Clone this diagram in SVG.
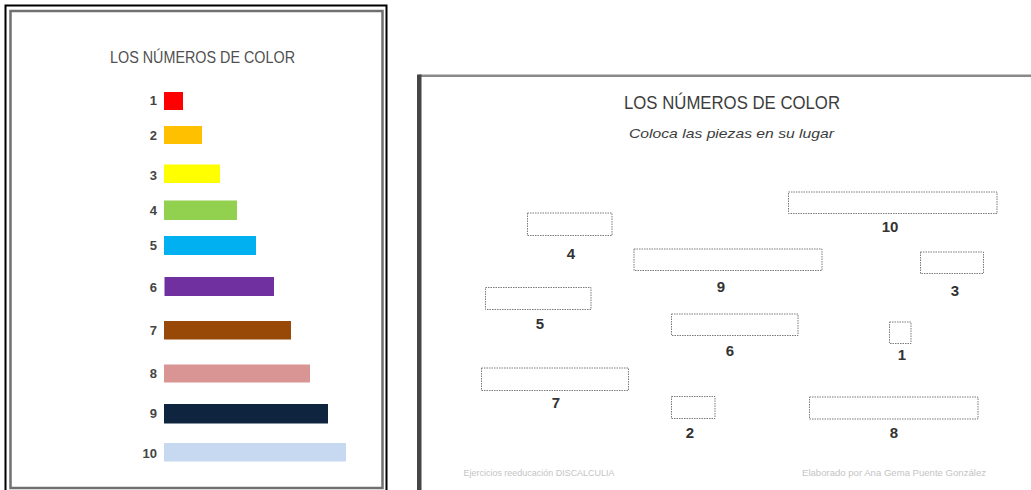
<svg xmlns="http://www.w3.org/2000/svg" width="1031" height="490" viewBox="0 0 1031 490">
<style>
.t{font-family:"Liberation Sans",Arial,sans-serif;fill:#3c3c3c}
.lt{font-size:17px;fill:#505050}
.ln{font-size:13px;font-weight:bold;fill:#444;text-anchor:end}
.rn{font-size:15px;font-weight:bold;fill:#333;text-anchor:middle}
.box{fill:none;stroke:#7a7a7a;stroke-width:1;stroke-dasharray:1.5 1}
.foot{font-size:9px;fill:#c4c4c4}
</style>
<rect width="1031" height="490" fill="#ffffff"/>
<!-- left sheet frame -->
<g id="left-frame">
<path d="M5.5 495 V5.5 H386.5 V495" fill="none" stroke="#000" stroke-width="2"/>
<path d="M10.5 488 V11 H382.5 V488 Z" fill="none" stroke="#707070" stroke-width="2.5"/>
</g>
<!-- right sheet frame -->
<g id="right-frame">
<rect x="419" y="74.5" width="620" height="2.5" fill="#8a8a8a"/>
<rect x="417" y="74.5" width="4.5" height="420" fill="#454545"/>
</g>
<text class="t lt" x="110" y="62.5" textLength="185" lengthAdjust="spacingAndGlyphs">LOS NÚMEROS DE COLOR</text>
<g id="bars">
<g id="bar1"><rect x="164" y="92" width="19" height="18" fill="#FF0000"/><text class="t ln" x="157" y="105">1</text></g>
<g id="bar2"><rect x="164" y="126" width="38" height="18" fill="#FFC000"/><text class="t ln" x="157" y="140">2</text></g>
<g id="bar3"><rect x="164" y="164.5" width="56" height="18.5" fill="#FFFF00"/><text class="t ln" x="157" y="179.5">3</text></g>
<g id="bar4"><rect x="164" y="200.5" width="73" height="19.5" fill="#92D050"/><text class="t ln" x="157" y="215">4</text></g>
<g id="bar5"><rect x="164" y="236" width="92" height="19" fill="#00B0F0"/><text class="t ln" x="157" y="250">5</text></g>
<g id="bar6"><rect x="164.5" y="277" width="109.5" height="19" fill="#7030A0"/><text class="t ln" x="157" y="291.5">6</text></g>
<g id="bar7"><rect x="164" y="321" width="127" height="18.5" fill="#984807"/><text class="t ln" x="157" y="335">7</text></g>
<g id="bar8"><rect x="164" y="364.5" width="146" height="18" fill="#D99594"/><text class="t ln" x="157" y="378">8</text></g>
<g id="bar9"><rect x="164" y="404" width="164" height="19.5" fill="#0F243E"/><text class="t ln" x="157" y="418">9</text></g>
<g id="bar10"><rect x="164" y="443" width="182" height="18.5" fill="#C6D9F1"/><text class="t ln" x="157" y="458">10</text></g>
</g>
<text class="t" x="624" y="108.5" font-size="18" fill="#454545" textLength="216" lengthAdjust="spacingAndGlyphs">LOS NÚMEROS DE COLOR</text>
<text class="t" x="629" y="137.5" font-size="13" font-style="italic" fill="#555" textLength="205" lengthAdjust="spacingAndGlyphs">Coloca las piezas en su lugar</text>
<g id="slots">
<g id="slot10"><rect class="box" x="788.5" y="192" width="208.5" height="21.5"/><text class="t rn" x="890" y="232">10</text></g>
<g id="slot4"><rect class="box" x="527.5" y="213" width="84.5" height="22.5"/><text class="t rn" x="571" y="258.5">4</text></g>
<g id="slot9"><rect class="box" x="634" y="249" width="188" height="21.5"/><text class="t rn" x="721" y="292">9</text></g>
<g id="slot3"><rect class="box" x="920.5" y="252" width="63" height="21.5"/><text class="t rn" x="955" y="295.5">3</text></g>
<g id="slot5"><rect class="box" x="485.5" y="287.5" width="105.5" height="22"/><text class="t rn" x="540" y="328.5">5</text></g>
<g id="slot6"><rect class="box" x="671.5" y="314" width="126.5" height="21.5"/><text class="t rn" x="730" y="355.5">6</text></g>
<g id="slot1"><rect class="box" x="889.5" y="322" width="21.5" height="21.5"/><text class="t rn" x="902" y="360">1</text></g>
<g id="slot7"><rect class="box" x="481.5" y="368" width="147" height="22.5"/><text class="t rn" x="556" y="408">7</text></g>
<g id="slot2"><rect class="box" x="671.5" y="396.5" width="43.5" height="22"/><text class="t rn" x="690" y="438">2</text></g>
<g id="slot8"><rect class="box" x="809.5" y="397" width="168.5" height="22"/><text class="t rn" x="894" y="437.5">8</text></g>
</g>
<text class="t foot" x="463.5" y="476" textLength="151" lengthAdjust="spacingAndGlyphs">Ejercicios reeducación DISCALCULIA</text>
<text class="t foot" x="802" y="476" textLength="184" lengthAdjust="spacingAndGlyphs">Elaborado por Ana Gema Puente González</text>
</svg>
